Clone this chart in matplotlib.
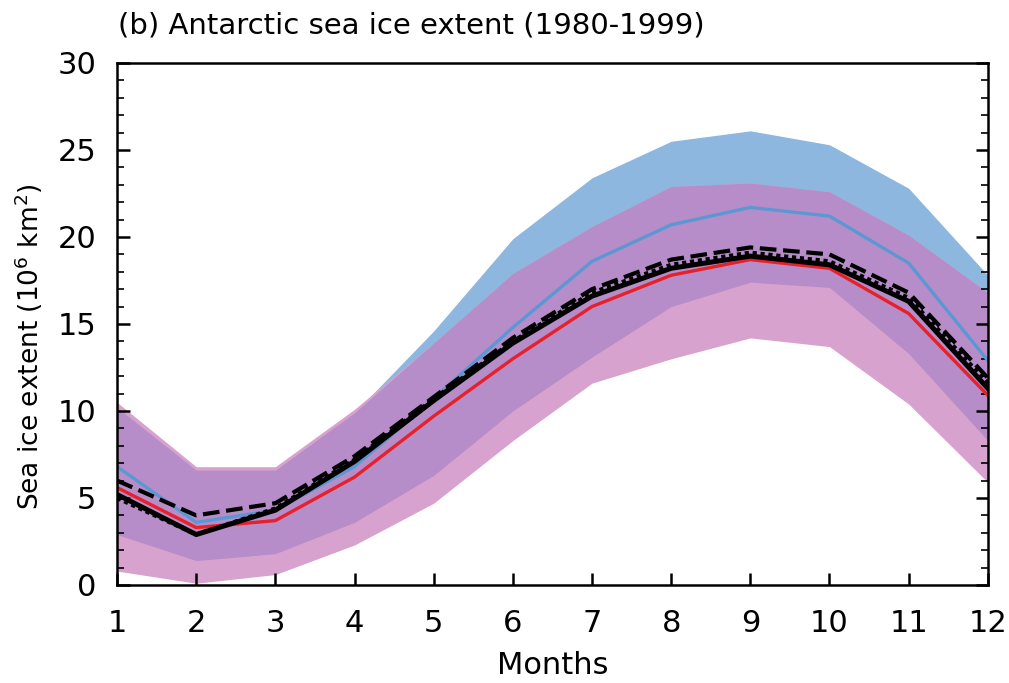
import matplotlib
matplotlib.use("Agg")
import matplotlib.pyplot as plt
import numpy as np
from matplotlib.ticker import MultipleLocator

plt.rcParams['font.family'] = ['DejaVu Sans']

months = [1, 2, 3, 4, 5, 6, 7, 8, 9, 10, 11, 12]

# shaded ranges
blue_upper = [10.2, 6.6, 6.6, 9.9, 14.6, 19.9, 23.4, 25.5, 26.1, 25.3, 22.8, 17.8]
blue_lower = [2.9, 1.4, 1.8, 3.6, 6.3, 10.0, 13.1, 16.0, 17.4, 17.1, 13.3, 8.3]
pink_upper = [10.5, 6.8, 6.8, 10.1, 13.9, 17.9, 20.6, 22.9, 23.1, 22.6, 20.1, 16.8]
pink_lower = [0.8, 0.1, 0.6, 2.3, 4.7, 8.3, 11.6, 13.0, 14.2, 13.7, 10.4, 5.9]

# lines
blue_line = [6.8, 3.6, 4.3, 6.8, 10.7, 14.8, 18.6, 20.7, 21.7, 21.2, 18.5, 12.9]
red_line = [5.6, 3.3, 3.7, 6.2, 9.7, 13.0, 16.0, 17.8, 18.7, 18.2, 15.6, 10.9]
black_solid = [5.2, 2.9, 4.3, 7.1, 10.6, 13.9, 16.6, 18.2, 18.9, 18.4, 16.3, 11.3]
black_dashed = [6.0, 4.0, 4.7, 7.4, 10.8, 14.2, 17.0, 18.7, 19.4, 19.0, 16.8, 11.9]
black_dotted = [5.0, 2.9, 4.4, 7.2, 10.7, 14.0, 16.8, 18.4, 19.1, 18.6, 16.5, 11.6]

fig = plt.figure(figsize=(10.09, 6.83), dpi=100)
ax = fig.add_axes([0.116, 0.1435, 0.863, 0.7643])

x = np.array(months)
bu, bl = np.array(blue_upper), np.array(blue_lower)
pu, pl = np.array(pink_upper), np.array(pink_lower)

ax.fill_between(x, bl, bu, color='#8db7df', linewidth=0)
ax.fill_between(x, pl, pu, color='#d8a2ce', linewidth=0)
ov_lo = np.maximum(bl, pl)
ov_hi = np.minimum(bu, pu)
ax.fill_between(x, ov_lo, ov_hi, where=ov_hi > ov_lo, color='#b68dc8', linewidth=0)

ax.plot(x, blue_line, color='#5b98d3', lw=2.4)
ax.plot(x, red_line, color='#e8202a', lw=2.4)
ax.plot(x, black_solid, color='black', lw=3.6)
ax.plot(x, black_dashed, color='black', lw=3.0, dashes=(4, 1.6))
ax.plot(x, black_dotted, color='black', lw=3.0, dashes=(1, 0.9))

ax.set_xlim(1, 12)
ax.set_ylim(0, 30)
ax.set_xticks(months)
ax.set_yticks([0, 5, 10, 15, 20, 25, 30])
ax.yaxis.set_minor_locator(MultipleLocator(1))
ax.tick_params(axis='both', which='major', direction='in', length=9, width=1.8,
               labelsize=22)
ax.tick_params(axis='x', which='major', pad=17)
ax.tick_params(axis='y', which='major', pad=15)
ax.tick_params(axis='y', which='minor', direction='in', length=5, width=1.2)
ax.tick_params(axis='y', which='both', right=True)
ax.tick_params(axis='x', which='both', top=False)
for s in ax.spines.values():
    s.set_linewidth(1.8)

ax.set_xlabel('Months', fontsize=22, labelpad=10)
ax.set_ylabel('Sea ice extent (10$^6$ km$^2$)', fontsize=19)
ax.yaxis.set_label_coords(-0.083, 0.456)
fig.text(0.117, 0.963, '(b) Antarctic sea ice extent (1980-1999)', fontsize=21,
         ha='left', va='center')

fig.savefig('out.png', dpi=100)
